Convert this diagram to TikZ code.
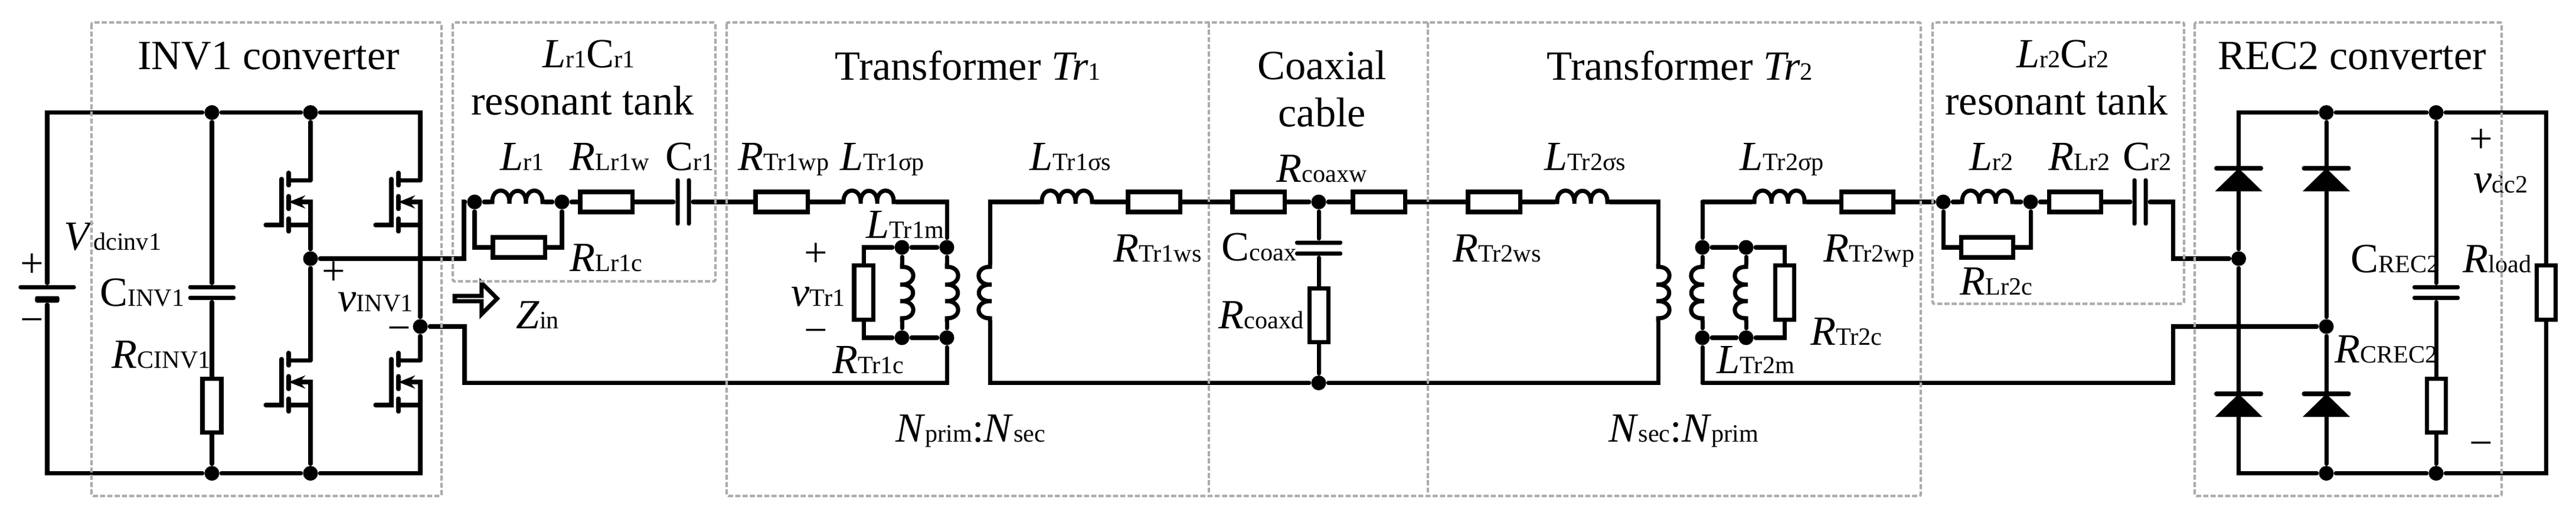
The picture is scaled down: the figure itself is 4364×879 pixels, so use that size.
\documentclass[tikz,border=0pt]{standalone}
\usepackage{fontspec}
\setmainfont{Liberation Serif}
\usetikzlibrary{arrows.meta,shapes.arrows}
\newcommand{\subsize}{\fontsize{12}{14}\selectfont}
\newcommand{\lab}[2]{\textit{#1}{\subsize #2}}
\tikzset{
  res/.style={draw, fill=white, inner sep=0, minimum width=.88cm, minimum height=.34cm},
  resv/.style={draw, fill=white, inner sep=0, minimum width=.32cm, minimum height=.91cm},
  dot/.style={circle, fill=black, inner sep=0, minimum size=.25cm},
  hplate/.style={fill=black, inner sep=0, minimum width=.80cm, minimum height=.07cm, rounded corners=.03cm},
  vplate/.style={fill=black, inner sep=0, minimum width=.07cm, minimum height=.80cm, rounded corners=.03cm},
  lbl/.style={anchor=base west, inner sep=0, font=\fontsize{20}{22}\selectfont},
  sgn/.style={anchor=center, inner sep=0, font=\fontsize{20}{22}\selectfont},
  blockbox/.style={draw=boxgray, line width=1.2pt, line cap=butt, dash pattern=on .085cm off .038cm, rounded corners=.03cm},
  hcoil/.pic={
    \coordinate (-in) at (0,0);
    \coordinate (-out) at (95,0);
    \draw (0,0) -- (5,0) .. controls (4,-26) and (36,-26) .. (34,3) .. controls (32,-26) and (64,-26) .. (62,3)
      .. controls (60,-26) and (91,-26) .. (90,0) -- (95,0);
  },
  vcoil/.pic={
    \coordinate (-in) at (0,0);
    \coordinate (-out) at (0,97);
    \draw (0,0) -- (0,5) .. controls (26,4) and (26,37) .. (-3,35) .. controls (26,33) and (26,65) .. (-3,63)
      .. controls (26,61) and (26,93) .. (0,92) -- (0,97);
  },
  mosfet/.pic={
    \coordinate (-d) at (0,0);
    \coordinate (-s) at (0,75.5);
    \draw (0,0) -- (-37,0);
    \draw (-37,-13) -- (-37,8.5);
    \draw (-37,26.5) -- (-37,48.5);
    \draw (-37,64.5) -- (-37,86.5);
    \draw (-76,75.5) -- (-49,75.5) -- (-49,-2.5);
    \draw[-{Stealth[length=.28cm,width=.22cm]}] (-37,75.5) -- (0,75.5) -- (0,36.5) -- (-37,36.5);
  },
  diode/.pic={
    \coordinate (-a) at (0,0);
    \coordinate (-k) at (0,39);
    \draw (-38,0) -- (38,0);
    \fill (0,0) -- (40,39) -- (-40,39) -- cycle;
  },
}
\definecolor{boxgray}{HTML}{ABABAB}
\begin{document}
\begin{tikzpicture}[x=.01cm, y=-.01cm, line width=2pt, line cap=round]
  \useasboundingbox (0,0) rectangle (4364,879);

  \begin{scope}
    \node [hplate, minimum width=.97cm] (batp) at (80,486.5) {};
    \node [hplate, minimum width=.41cm, minimum height=.11cm] (batn) at (80,507) {};
    \node [dot] (j1t) at (359,190.6) {};
    \node [dot] (j1b) at (359,801.6) {};
    \node [dot] (j2t) at (526,190.6) {};
    \node [dot] (j2b) at (526,801.6) {};
    \node [dot] (jm1) at (526,438) {};
    \node [dot] (jm2) at (712,553) {};
    \node [hplate] (cinva) at (359,486.5) {};
    \node [hplate] (cinvb) at (359,504.5) {};
    \node [resv] (rcinv) at (359,687) {};
    \coordinate (tl) at (80,190.6);
    \coordinate (bl) at (80,801.6);
    \coordinate (tr) at (712,190.6);
    \coordinate (br) at (712,801.6);
    \pic (q1) at (526,305.5) {mosfet};
    \pic (q2) at (526,610.5) {mosfet};
    \pic (q3) at (712,305.5) {mosfet};
    \pic (q4) at (712,610.5) {mosfet};
    \draw (batp) -- (tl) -- (j1t) -- (j2t) -- (tr) -- (q3-d);
    \draw (batn) -- (bl) -- (j1b) -- (j2b) -- (br) -- (q4-s);
    \draw (j1t) -- (cinva);
    \draw (cinvb) -- (rcinv) -- (j1b);
    \draw (j2t) -- (q1-d);
    \draw (q1-s) -- (jm1) -- (q2-d);
    \draw (q2-s) -- (j2b);
    \draw (q3-s) -- (jm2) -- (q4-d);
    \node [lbl] (inv) at (230,117.7) {INV1 converter};
    \node [lbl] (vdc) at (105,423) {\lab{V}{dcinv1}};
    \node [lbl] (lcinv) at (166,518.5) {C{\subsize INV1}};
    \node [lbl] (lrcinv) at (186,623) {\lab{R}{CINV1}};
    \node [lbl] (lvinv) at (569,527) {\lab{v}{INV1}};
    \node [sgn] (batplus) at (54,450) {+};
    \node [sgn] (batminus) at (54,552) {−};
    \node [sgn] (invplus) at (565,463) {+};
    \node [sgn] (invminus) at (676,566) {−};
  \end{scope}

  \begin{scope}
    \node [dot] (jl1) at (804,342) {};
    \node [dot] (jl2) at (952,342) {};
    \pic (lr1) at (829,342) {hcoil};
    \node [res] (rlr1w) at (1027,342) {};
    \node [res] (rlr1c) at (879,419) {};
    \node [vplate] (cr1a) at (1148,342) {};
    \node [vplate] (cr1b) at (1167,342) {};
    \coordinate (up1) at (786,438);
    \coordinate (up2) at (786,342);
    \coordinate (low1) at (804,419);
    \coordinate (low2) at (952,419);
    \draw (jm1) -- (up1) -- (up2) -- (jl1) -- (lr1-in);
    \draw (lr1-out) -- (jl2) -- (rlr1w) -- (cr1a);
    \draw (jl1) -- (low1) -- (rlr1c) -- (low2) -- (jl2);
    \node [single arrow, draw, inner sep=0, minimum width=.53cm, minimum height=.72cm,
      single arrow head extend=.17cm, single arrow head indent=0cm] (zarrow) at (804,505.6) {};
    \node [lbl] (zin) at (871,556) {\lab{Z}{in}};
    \node [lbl] (tank1a) at (916,115) {\lab{L}{r1}C{\subsize r1}};
    \node [lbl] (tank1b) at (795,195) {resonant tank};
    \node [lbl] (llr1) at (844,288.7) {\lab{L}{r1}};
    \node [lbl] (lrlr1w) at (962,288.7) {\lab{R}{Lr1w}};
    \node [lbl] (lcr1) at (1124,288.7) {C{\subsize r1}};
    \node [lbl] (lrlr1c) at (962,459.6) {\lab{R}{Lr1c}};
  \end{scope}

  \begin{scope}
    \node [res] (rtr1wp) at (1324,342) {};
    \pic (ltr1p) at (1424,342) {hcoil};
    \coordinate (pt1) at (1604,342);
    \node [dot] (jt1) at (1604,419) {};
    \node [dot] (jt2) at (1604,572) {};
    \node [dot] (jt3) at (1528,419) {};
    \node [dot] (jt4) at (1528,572) {};
    \node [resv] (rtr1c) at (1463,495.5) {};
    \coordinate (ct1) at (1463,419);
    \coordinate (ct2) at (1463,572);
    \coordinate (pb1) at (1604,648.5);
    \coordinate (inb) at (787,553);
    \coordinate (inc) at (787,648.5);
    \pic (ltr1m) at (1528,447) {vcoil};
    \pic (np1) at (1604,447) {vcoil};
    \pic [xscale=-1] (ns1) at (1677,447) {vcoil};
    \draw (cr1b) -- (rtr1wp) -- (ltr1p-in);
    \draw (ltr1p-out) -- (pt1) -- (jt1) -- (np1-in);
    \draw (np1-out) -- (jt2) -- (pb1) -- (inc) -- (inb) -- (jm2);
    \draw (jt1) -- (jt3) -- (ct1) -- (rtr1c) -- (ct2) -- (jt4) -- (jt2);
    \draw (jt3) -- (ltr1m-in);
    \draw (ltr1m-out) -- (jt4);
    \node [lbl] (tr1) at (1411,136) {Transformer \textit{Tr}{\subsize 1}};
    \node [lbl] (lrtr1wp) at (1247,288.7) {\lab{R}{Tr1wp}};
    \node [lbl] (lltr1p) at (1420,288.7) {\lab{L}{Tr1σp}};
    \node [lbl] (lltr1m) at (1464,403.6) {\lab{L}{Tr1m}};
    \node [lbl] (lvtr1) at (1337,518.5) {\lab{v}{Tr1}};
    \node [lbl] (lrtr1c) at (1407,632) {\lab{R}{Tr1c}};
    \node [sgn] (trplus) at (1382,431.6) {+};
    \node [sgn] (trminus) at (1382,570) {−};
    \node [lbl] (nratio1) at (1514,748) {\lab{N}{prim}:\lab{N}{sec}};
  \end{scope}

  \begin{scope}
    \coordinate (st1) at (1677,342);
    \coordinate (sb1) at (1677,648.5);
    \pic (ltr1s) at (1760,342) {hcoil};
    \node [res] (rtr1ws) at (1955,342) {};
    \node [res] (rcoaxa) at (2132,342) {};
    \node [dot] (jc) at (2234,342) {};
    \node [res] (rcoaxb) at (2336,342) {};
    \node [hplate] (ccoaxa) at (2234,411) {};
    \node [hplate] (ccoaxb) at (2234,429.4) {};
    \node [resv] (rcoaxd) at (2234,534) {};
    \node [dot] (jcb) at (2234,648.5) {};
    \node [res] (rtr2ws) at (2531,342) {};
    \pic (ltr2s) at (2633,342) {hcoil};
    \coordinate (st2) at (2809,342);
    \coordinate (sb2) at (2809,648.5);
    \pic (ns2) at (2809,447) {vcoil};
    \draw (ns1-in) -- (st1) -- (ltr1s-in);
    \draw (ltr1s-out) -- (rtr1ws) -- (rcoaxa) -- (jc) -- (rcoaxb) -- (rtr2ws) -- (ltr2s-in);
    \draw (ltr2s-out) -- (st2) -- (ns2-in);
    \draw (ns1-out) -- (sb1) -- (jcb) -- (sb2) -- (ns2-out);
    \draw (jc) -- (ccoaxa);
    \draw (ccoaxb) -- (rcoaxd) -- (jcb);
    \node [lbl] (ltr1sl) at (1741,288.7) {\lab{L}{Tr1σs}};
    \node [lbl] (lrtr1ws) at (1883,443) {\lab{R}{Tr1ws}};
    \node [lbl] (coaxa) at (2127,134.5) {Coaxial};
    \node [lbl] (coaxb) at (2162,214.7) {cable};
    \node [lbl] (lrcoaxw) at (2159,308) {\lab{R}{coaxw}};
    \node [lbl] (lccoax) at (2066,441) {C{\subsize coax}};
    \node [lbl] (lrcoaxd) at (2061,556) {\lab{R}{coaxd}};
    \node [lbl] (lrtr2ws) at (2458,443) {\lab{R}{Tr2ws}};
    \node [lbl] (ltr2sl) at (2613,288.7) {\lab{L}{Tr2σs}};
  \end{scope}

  \begin{scope}
    \coordinate (pt2) at (2884,342);
    \coordinate (pb2) at (2884,648.5);
    \node [dot] (jt5) at (2884,419) {};
    \node [dot] (jt6) at (2884,572) {};
    \node [dot] (jt7) at (2958,419) {};
    \node [dot] (jt8) at (2958,572) {};
    \node [resv] (rtr2c) at (3023,495.5) {};
    \coordinate (ct3) at (3023,419);
    \coordinate (ct4) at (3023,572);
    \pic [xscale=-1] (np2) at (2884,447) {vcoil};
    \pic [xscale=-1] (ltr2m) at (2958,447) {vcoil};
    \pic (ltr2p) at (2967,342) {hcoil};
    \node [res] (rtr2wp) at (3163,342) {};
    \draw (pt2) -- (ltr2p-in);
    \draw (ltr2p-out) -- (rtr2wp);
    \draw (pt2) -- (jt5) -- (np2-in);
    \draw (np2-out) -- (jt6) -- (pb2);
    \draw (jt5) -- (jt7) -- (ct3) -- (rtr2c) -- (ct4) -- (jt8) -- (jt6);
    \draw (jt7) -- (ltr2m-in);
    \draw (ltr2m-out) -- (jt8);
    \node [lbl] (tr2) at (2617,136) {Transformer \textit{Tr}{\subsize 2}};
    \node [lbl] (lltr2p) at (2944,288.7) {\lab{L}{Tr2σp}};
    \node [lbl] (lltr2m) at (2905,632) {\lab{L}{Tr2m}};
    \node [lbl] (lrtr2wp) at (3086,443) {\lab{R}{Tr2wp}};
    \node [lbl] (lrtr2c) at (3064,584.6) {\lab{R}{Tr2c}};
    \node [lbl] (nratio2) at (2722,748) {\lab{N}{sec}:\lab{N}{prim}};
  \end{scope}

  \begin{scope}
    \node [dot] (jl3) at (3292,342) {};
    \node [dot] (jl4) at (3440,342) {};
    \pic (lr2) at (3319,342) {hcoil};
    \node [res] (rlr2) at (3515,342) {};
    \node [res] (rlr2c) at (3366,419) {};
    \node [vplate] (cr2a) at (3616,342) {};
    \node [vplate] (cr2b) at (3635,342) {};
    \coordinate (low3) at (3292,419);
    \coordinate (low4) at (3440,419);
    \coordinate (out1) at (3681,342);
    \coordinate (out2) at (3681,438);
    \coordinate (ret1) at (3681,648.5);
    \coordinate (ret2) at (3681,553);
    \draw (rtr2wp) -- (jl3) -- (lr2-in);
    \draw (lr2-out) -- (jl4) -- (rlr2) -- (cr2a);
    \draw (jl3) -- (low3) -- (rlr2c) -- (low4) -- (jl4);
    \node [lbl] (tank2a) at (3413,115) {\lab{L}{r2}C{\subsize r2}};
    \node [lbl] (tank2b) at (3292,195) {resonant tank};
    \node [lbl] (llr2) at (3333,288.7) {\lab{L}{r2}};
    \node [lbl] (lrlr2) at (3467,288.7) {\lab{R}{Lr2}};
    \node [lbl] (lcr2) at (3593,288.7) {C{\subsize r2}};
    \node [lbl] (lrlr2c) at (3317,499) {\lab{R}{Lr2c}};
  \end{scope}

  \begin{scope}
    \coordinate (rtl) at (3792.5,190.6);
    \coordinate (rbl) at (3792.5,801.6);
    \coordinate (rtr) at (4313,190.6);
    \coordinate (rbr) at (4313,801.6);
    \node [dot] (jr1) at (3792.5,438) {};
    \node [dot] (jr2) at (3941,553) {};
    \node [dot] (jr3) at (3941,190.6) {};
    \node [dot] (jr4) at (4127,190.6) {};
    \node [dot] (jr5) at (3941,801.6) {};
    \node [dot] (jr6) at (4127,801.6) {};
    \pic (d1) at (3792.5,285) {diode};
    \pic (d2) at (3941,285) {diode};
    \pic (d3) at (3792.5,667) {diode};
    \pic (d4) at (3941,667) {diode};
    \node [hplate] (creca) at (4127,486.5) {};
    \node [hplate] (crecb) at (4127,504.5) {};
    \node [resv] (rcrec) at (4127,687) {};
    \node [resv] (rload) at (4313,495.5) {};
    \draw (cr2b) -- (out1) -- (out2) -- (jr1);
    \draw (pb2) -- (ret1) -- (ret2) -- (jr2);
    \draw (d1-a) -- (rtl) -- (jr3) -- (jr4) -- (rtr) -- (rload) -- (rbr) -- (jr6) -- (jr5) -- (rbl) -- (d3-k);
    \draw (d1-k) -- (jr1) -- (d3-a);
    \draw (jr3) -- (d2-a);
    \draw (d2-k) -- (jr2) -- (d4-a);
    \draw (d4-k) -- (jr5);
    \draw (jr4) -- (creca);
    \draw (crecb) -- (rcrec) -- (jr6);
    \node [lbl] (rec) at (3753.5,117.7) {REC2 converter};
    \node [lbl] (lvdc2) at (4187,327) {\lab{v}{dc2}};
    \node [lbl] (lcrec) at (3979,461) {C{\subsize REC2}};
    \node [lbl] (lrload) at (4169,461) {\lab{R}{load}};
    \node [lbl] (lrcrec) at (3952,614) {\lab{R}{CREC2}};
    \node [sgn] (recplus) at (4203,239) {+};
    \node [sgn] (recminus) at (4203,761) {−};
  \end{scope}

  \draw [blockbox] (155,38) rectangle (748,840);
  \draw [blockbox] (767,38) rectangle (1212,476.5);
  \draw [blockbox] (1231,38) rectangle (3254,840);
  \draw [blockbox] (2048,38) -- (2048,840);
  \draw [blockbox] (2419,38) -- (2419,840);
  \draw [blockbox] (3274,38) rectangle (3700,514.6);
  \draw [blockbox] (3718,38) rectangle (4238,840);
\end{tikzpicture}
\end{document}
